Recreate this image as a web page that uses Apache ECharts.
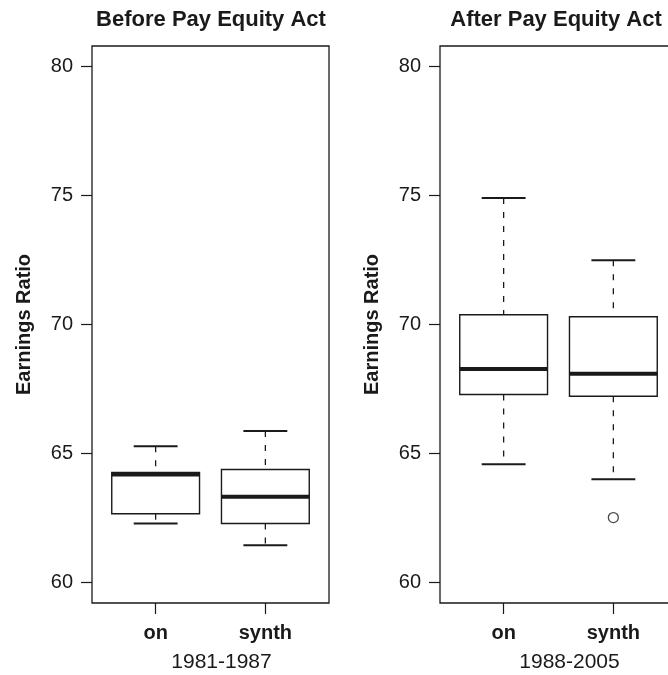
<!DOCTYPE html>
<html>
<head>
<meta charset="utf-8">
<script src="https://cdn.jsdelivr.net/npm/echarts@6/dist/echarts.min.js"></script>
<style>
html,body{margin:0;padding:0;background:#fff;}
#chart{width:668px;height:675px;}
</style>
</head>
<body>
<div id="chart"></div>
<script>
// ---- data ----
const categories = ['on', 'synth'];
const yTicks = [60, 65, 70, 75, 80];
const panelTitles = ['Before Pay Equity Act', 'After Pay Equity Act'];
const periodLabels = ['1981-1987', '1988-2005'];
const yAxisTitle = 'Earnings Ratio';
// [min, Q1, median, Q3, max]
const beforeOn = [62.29, 62.67, 64.19, 64.27, 65.28];
const beforeSynth = [61.45, 62.29, 63.33, 64.38, 65.87];
const afterOn = [64.59, 67.29, 68.28, 70.38, 74.90];
const afterSynth = [64.00, 67.22, 68.09, 70.30, 72.49];
const beforeOutliers = [];           // none
const afterSynthOutliers = [62.52];  // synth outlier after the act

// ---- build ----
const ink = '#1a1a1a';
const chart = echarts.init(document.getElementById('chart'), null, {renderer: 'canvas'});

function boxData(list) {
  return list.map((v, i) => [i + 1].concat(v));
}

function renderBox(params, api) {
  const x = api.value(0);
  const pMin = api.coord([x, api.value(1)]);
  const pQ1 = api.coord([x, api.value(2)]);
  const pMed = api.coord([x, api.value(3)]);
  const pQ3 = api.coord([x, api.value(4)]);
  const pMax = api.coord([x, api.value(5)]);
  const bw = api.size([0.8, 0])[0];
  const half = bw / 2;
  const c = pMed[0];
  const dash = {stroke: ink, lineWidth: 1.3, lineDash: [6, 8], fill: null};
  const solid = {stroke: ink, lineWidth: 2, fill: null};
  return {
    type: 'group',
    children: [
      {type: 'line', shape: {x1: c, y1: pMax[1], x2: c, y2: pQ3[1]}, style: dash},
      {type: 'line', shape: {x1: c, y1: pQ1[1], x2: c, y2: pMin[1]}, style: dash},
      {type: 'line', shape: {x1: c - half / 2, y1: pMax[1], x2: c + half / 2, y2: pMax[1]}, style: solid},
      {type: 'line', shape: {x1: c - half / 2, y1: pMin[1], x2: c + half / 2, y2: pMin[1]}, style: solid},
      {type: 'rect', shape: {x: c - half, y: pQ3[1], width: bw, height: pQ1[1] - pQ3[1]},
        style: {fill: '#fff', stroke: ink, lineWidth: 1.4}},
      {type: 'line', shape: {x1: c - half, y1: pMed[1], x2: c + half, y2: pMed[1]},
        style: {stroke: ink, lineWidth: 4}}
    ]
  };
}

const fontFamily = '"Liberation Sans", Arial, Helvetica, sans-serif';

function makeX(idx) {
  return {
    type: 'value', gridIndex: idx, min: 0.42, max: 2.58,
    name: periodLabels[idx], nameLocation: 'middle', nameGap: 49,
    nameTextStyle: {fontSize: 21, color: ink, fontFamily: fontFamily, padding: [0, 0, 0, 22]},
    axisLine: {show: false},
    splitLine: {show: false},
    axisTick: {show: true, length: 11, lineStyle: {color: ink, width: 1.2}, customValues: [1, 2]},
    axisLabel: {show: true, margin: 20, fontSize: 20, fontWeight: 'bold', color: ink, fontFamily: fontFamily,
      customValues: [1, 2], formatter: v => categories[Math.round(v) - 1] || ''}
  };
}
function makeY(idx) {
  return {
    type: 'value', gridIndex: idx, min: 59.21, max: 80.79,
    name: yAxisTitle, nameLocation: 'middle', nameGap: 58, nameRotate: 90,
    nameTextStyle: {fontSize: 20, fontWeight: 'bold', color: ink, fontFamily: fontFamily},
    axisLine: {show: false},
    splitLine: {show: false},
    axisTick: {show: true, length: 11, lineStyle: {color: ink, width: 1.2}, customValues: yTicks},
    axisLabel: {show: true, margin: 19, fontSize: 20, color: ink, fontFamily: fontFamily, customValues: yTicks}
  };
}

const option = {
  backgroundColor: '#fff',
  animation: false,
  textStyle: {fontFamily: fontFamily},
  grid: [
    {left: 92, top: 46, width: 237, height: 557, outerBoundsMode: 'none', containLabel: false,
      show: true, borderColor: ink, borderWidth: 1.3, backgroundColor: 'transparent'},
    {left: 440, top: 46, width: 237, height: 557, outerBoundsMode: 'none', containLabel: false,
      show: true, borderColor: ink, borderWidth: 1.3, backgroundColor: 'transparent'}
  ],
  graphic: [
    {type: 'text', x: 211, y: 20, style: {text: panelTitles[0], fill: ink, font: 'bold 22px ' + fontFamily, textAlign: 'center', textVerticalAlign: 'middle'}},
    {type: 'text', x: 556, y: 20, style: {text: panelTitles[1], fill: ink, font: 'bold 22px ' + fontFamily, textAlign: 'center', textVerticalAlign: 'middle'}}
  ],
  xAxis: [makeX(0), makeX(1)],
  yAxis: [makeY(0), makeY(1)],
  series: [
    {type: 'custom', xAxisIndex: 0, yAxisIndex: 0, renderItem: renderBox,
      encode: {x: 0, y: [1, 2, 3, 4, 5]}, data: boxData([beforeOn, beforeSynth]), z: 2},
    {type: 'custom', xAxisIndex: 1, yAxisIndex: 1, renderItem: renderBox,
      encode: {x: 0, y: [1, 2, 3, 4, 5]}, data: boxData([afterOn, afterSynth]), z: 2},
    {type: 'scatter', xAxisIndex: 0, yAxisIndex: 0, data: beforeOutliers.map(v => [1, v]),
      symbol: 'circle', symbolSize: 10, itemStyle: {color: '#fff', borderColor: ink, borderWidth: 1.3}, z: 3},
    {type: 'scatter', xAxisIndex: 1, yAxisIndex: 1, data: afterSynthOutliers.map(v => [2, v]),
      symbol: 'circle', symbolSize: 10, itemStyle: {color: '#fff', borderColor: ink, borderWidth: 1.3}, z: 3}
  ]
};
chart.setOption(option);
</script>
</body>
</html>
